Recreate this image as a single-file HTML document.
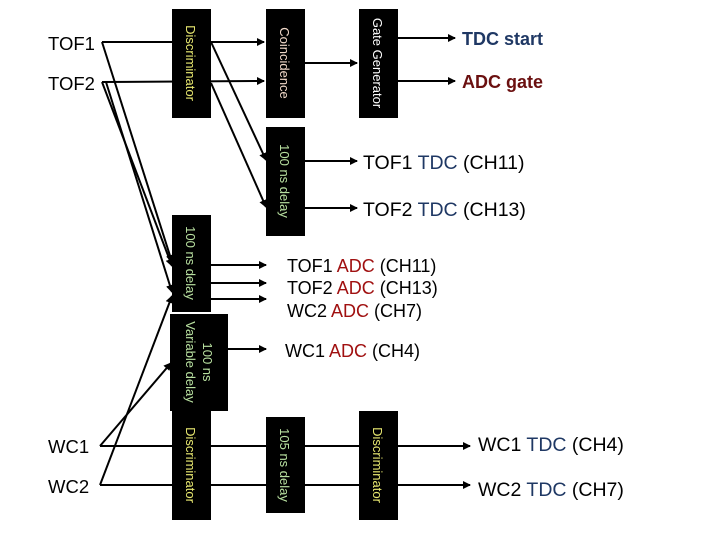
<!DOCTYPE html>
<html><head><meta charset="utf-8"><style>
html,body{margin:0;padding:0;background:#fff;}
svg{display:block;font-family:"Liberation Sans",sans-serif;}
.b{fill:#000}
.bt{font-size:13px;}
.l{font-size:19.5px;fill:#000}
</style></head><body>
<svg width="720" height="540" viewBox="0 0 720 540" xmlns="http://www.w3.org/2000/svg">
<defs><marker id="a" markerWidth="8" markerHeight="8" refX="7" refY="4" orient="auto" markerUnits="userSpaceOnUse"><path d="M0,0 L8,4 L0,8 z" fill="#000"/></marker></defs>
<g stroke="#000" stroke-width="2" fill="none">
<line x1="102" y1="42" x2="264" y2="42" marker-end="url(#a)"/>
<line x1="102" y1="82" x2="264" y2="81" marker-end="url(#a)"/>
<line x1="305" y1="63" x2="357" y2="63" marker-end="url(#a)"/>
<line x1="398" y1="38" x2="455" y2="38" marker-end="url(#a)"/>
<line x1="398" y1="81" x2="455" y2="81" marker-end="url(#a)"/>
<line x1="211" y1="42" x2="266" y2="160" marker-end="url(#a)"/>
<line x1="211" y1="83" x2="266" y2="207" marker-end="url(#a)"/>
<line x1="305" y1="161" x2="357" y2="161" marker-end="url(#a)"/>
<line x1="305" y1="208" x2="357" y2="208" marker-end="url(#a)"/>
<line x1="102" y1="42" x2="172" y2="262" marker-end="url(#a)"/>
<line x1="102" y1="82" x2="172" y2="266" marker-end="url(#a)"/>
<line x1="106" y1="82" x2="172" y2="292" marker-end="url(#a)"/>
<line x1="211" y1="265" x2="266" y2="265" marker-end="url(#a)"/>
<line x1="211" y1="283" x2="266" y2="283" marker-end="url(#a)"/>
<line x1="211" y1="299" x2="266" y2="299" marker-end="url(#a)"/>
<line x1="228" y1="349" x2="266" y2="349" marker-end="url(#a)"/>
<line x1="100" y1="446" x2="470" y2="446" marker-end="url(#a)"/>
<line x1="100" y1="485" x2="470" y2="485" marker-end="url(#a)"/>
<line x1="100" y1="446" x2="171" y2="363" marker-end="url(#a)"/>
<line x1="100" y1="485" x2="172" y2="296" marker-end="url(#a)"/>
</g>
<rect class="b" x="172" y="9" width="39" height="109"/>
<rect class="b" x="266" y="9" width="39" height="109"/>
<rect class="b" x="359" y="9" width="39" height="109"/>
<rect class="b" x="266" y="127" width="39" height="109"/>
<rect class="b" x="172" y="215" width="39" height="97"/>
<rect class="b" x="170" y="314" width="58" height="97"/>
<rect class="b" x="172" y="411" width="39" height="109"/>
<rect class="b" x="266" y="417" width="39" height="96"/>
<rect class="b" x="359" y="411" width="39" height="109"/>
<g class="bt">
<text transform="translate(186,63) rotate(90)" text-anchor="middle" fill="#e8e870">Discriminator</text>
<text transform="translate(280,63) rotate(90)" text-anchor="middle" fill="#f0d8c8">Coincidence</text>
<text transform="translate(373,63) rotate(90)" text-anchor="middle" fill="#fff">Gate Generator</text>
<text transform="translate(280,181) rotate(90)" text-anchor="middle" fill="#b8e0a0">100 ns delay</text>
<text transform="translate(186,263) rotate(90)" text-anchor="middle" fill="#b8e0a0">100 ns delay</text>
<text transform="translate(203,362) rotate(90)" text-anchor="middle" fill="#b8e0a0">100 ns</text>
<text transform="translate(186,362) rotate(90)" text-anchor="middle" fill="#b8e0a0">Variable delay</text>
<text transform="translate(186,465) rotate(90)" text-anchor="middle" fill="#e8e870">Discriminator</text>
<text transform="translate(280,465) rotate(90)" text-anchor="middle" fill="#b8e0a0">105 ns delay</text>
<text transform="translate(373,465) rotate(90)" text-anchor="middle" fill="#e8e870">Discriminator</text>
</g>
<g class="l">
<text x="48" y="50" font-size="18.5">TOF1</text>
<text x="48" y="90" font-size="18.5">TOF2</text>
<text x="48" y="453" font-size="18.5">WC1</text>
<text x="48" y="493" font-size="18.5">WC2</text>
<text x="462" y="45" font-weight="bold" fill="#1f3864" font-size="18">TDC start</text>
<text x="462" y="88" font-weight="bold" fill="#6b1010" font-size="18">ADC gate</text>
<text x="363" y="169">TOF1 <tspan fill="#1f3864">TDC</tspan> (CH11)</text>
<text x="363" y="216">TOF2 <tspan fill="#1f3864">TDC</tspan> (CH13)</text>
<text x="287" y="272" font-size="18">TOF1 <tspan fill="#a01010">ADC</tspan> (CH11)</text>
<text x="287" y="294" font-size="18">TOF2 <tspan fill="#a01010">ADC</tspan> (CH13)</text>
<text x="287" y="317" font-size="18">WC2 <tspan fill="#a01010">ADC</tspan> (CH7)</text>
<text x="285" y="357" font-size="18">WC1 <tspan fill="#a01010">ADC</tspan> (CH4)</text>
<text x="478" y="451">WC1 <tspan fill="#1f3864">TDC</tspan> (CH4)</text>
<text x="478" y="496">WC2 <tspan fill="#1f3864">TDC</tspan> (CH7)</text>
</g>
</svg>
</body></html>
